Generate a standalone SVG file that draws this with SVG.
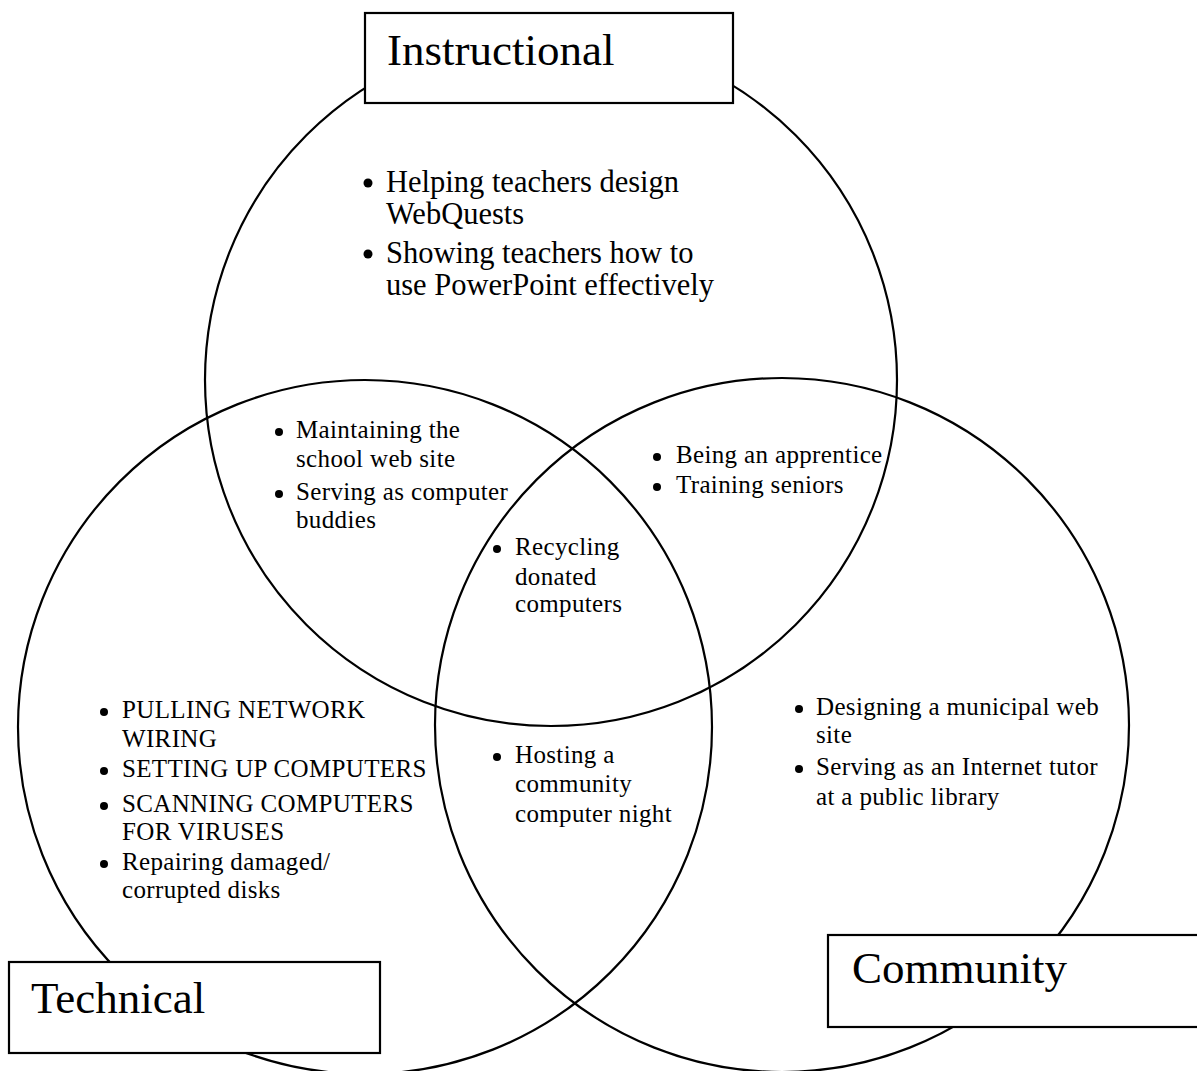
<svg xmlns="http://www.w3.org/2000/svg" width="1197" height="1071" viewBox="0 0 1197 1071">
  <style>
    .ring { fill: none; stroke: #000; stroke-width: 2.2; }
    .box { fill: #fff; stroke: #000; stroke-width: 2.2; }
    .title { font-family: "Liberation Serif", "Times New Roman", serif; font-size: 45px; fill: #000; }
    .big { font-family: "Liberation Serif", "Times New Roman", serif; font-size: 30.5px; fill: #000; }
    .small { font-family: "Liberation Serif", "Times New Roman", serif; font-size: 25px; fill: #000; letter-spacing: 0.35px; }
    .dot { fill: #000; }
  </style>
  <rect width="1197" height="1071" fill="#fff"/>

  <!-- three overlapping sets -->
  <g id="circles">
    <circle id="ring-instructional" class="ring" cx="551" cy="380" r="346"/>
    <circle id="ring-technical" class="ring" cx="365" cy="727" r="347"/>
    <circle id="ring-community" class="ring" cx="782" cy="725" r="347"/>
  </g>

  <!-- Instructional only -->
  <g id="items-instructional">
    <circle class="dot" cx="368" cy="183" r="4.5"/>
    <text class="big" x="386" y="192">Helping teachers design</text>
    <text class="big" x="386" y="224">WebQuests</text>
    <circle class="dot" cx="368" cy="254" r="4.5"/>
    <text class="big" x="386" y="263">Showing teachers how to</text>
    <text class="big" x="386" y="295">use PowerPoint effectively</text>
  </g>

  <!-- Instructional + Technical -->
  <g id="items-instr-tech">
    <circle class="dot" cx="279" cy="432" r="4"/>
    <text class="small" x="296" y="438">Maintaining the</text>
    <text class="small" x="296" y="467">school web site</text>
    <circle class="dot" cx="279" cy="494" r="4"/>
    <text class="small" x="296" y="500">Serving as computer</text>
    <text class="small" x="296" y="528">buddies</text>
  </g>

  <!-- Instructional + Community -->
  <g id="items-instr-comm">
    <circle class="dot" cx="657" cy="457" r="4"/>
    <text class="small" x="676" y="463">Being an apprentice</text>
    <circle class="dot" cx="657" cy="487" r="4"/>
    <text class="small" x="676" y="493">Training seniors</text>
  </g>

  <!-- All three -->
  <g id="items-all">
    <circle class="dot" cx="497" cy="549" r="4"/>
    <text class="small" x="515" y="555">Recycling</text>
    <text class="small" x="515" y="585">donated</text>
    <text class="small" x="515" y="612">computers</text>
  </g>

  <!-- Technical only -->
  <g id="items-technical">
    <circle class="dot" cx="104" cy="712" r="4"/>
    <text class="small" x="122" y="718">PULLING NETWORK</text>
    <text class="small" x="122" y="747">WIRING</text>
    <circle class="dot" cx="104" cy="771" r="4"/>
    <text class="small" x="122" y="777">SETTING UP COMPUTERS</text>
    <circle class="dot" cx="104" cy="806" r="4"/>
    <text class="small" x="122" y="812">SCANNING COMPUTERS</text>
    <text class="small" x="122" y="840">FOR VIRUSES</text>
    <circle class="dot" cx="104" cy="864" r="4"/>
    <text class="small" x="122" y="870">Repairing damaged/</text>
    <text class="small" x="122" y="898">corrupted disks</text>
  </g>

  <!-- Technical + Community -->
  <g id="items-tech-comm">
    <circle class="dot" cx="497" cy="757" r="4"/>
    <text class="small" x="515" y="763">Hosting a</text>
    <text class="small" x="515" y="792">community</text>
    <text class="small" x="515" y="822">computer night</text>
  </g>

  <!-- Community only -->
  <g id="items-community">
    <circle class="dot" cx="799" cy="709" r="4"/>
    <text class="small" x="816" y="715">Designing a municipal web</text>
    <text class="small" x="816" y="743">site</text>
    <circle class="dot" cx="799" cy="769" r="4"/>
    <text class="small" x="816" y="775">Serving as an Internet tutor</text>
    <text class="small" x="816" y="805">at a public library</text>
  </g>

  <!-- set labels -->
  <g id="label-instructional">
    <rect class="box" x="365" y="13" width="368" height="90"/>
    <text class="title" x="387" y="65">Instructional</text>
  </g>
  <g id="label-technical">
    <rect class="box" x="9" y="962" width="371" height="91"/>
    <text class="title" x="31" y="1013">Technical</text>
  </g>
  <g id="label-community">
    <rect class="box" x="828" y="935" width="375" height="92"/>
    <text class="title" x="852" y="983">Community</text>
  </g>

  <g id="connectors"/>
</svg>
